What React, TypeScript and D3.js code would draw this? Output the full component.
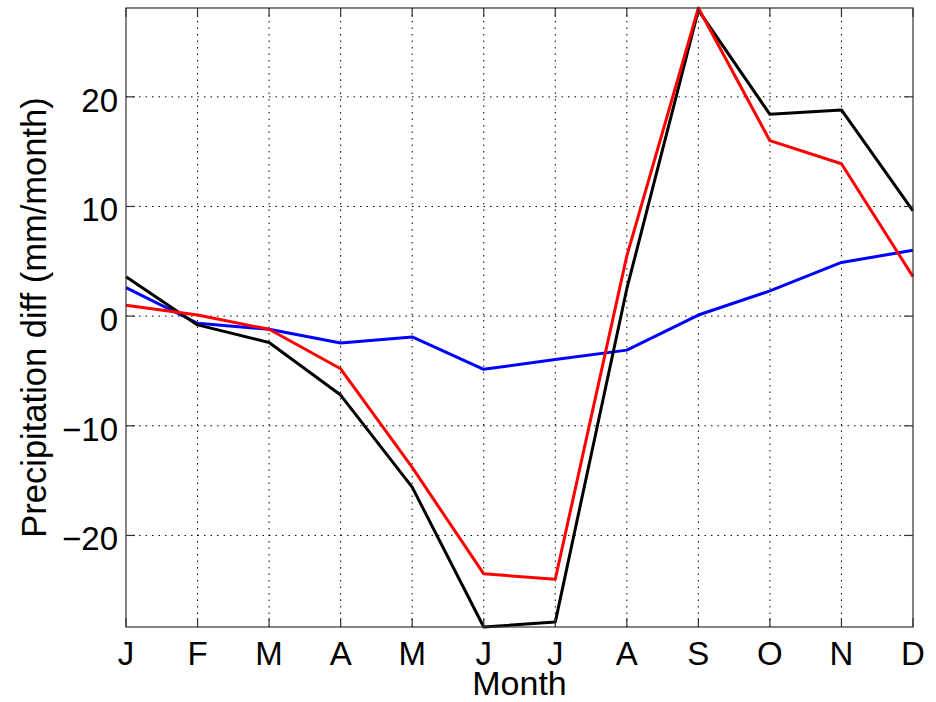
import React, { useEffect, useRef } from 'react';
import * as d3 from 'd3';

// Month labels (x axis)
const months = ['J', 'F', 'M', 'A', 'M', 'J', 'J', 'A', 'S', 'O', 'N', 'D'];

// Precipitation difference series (mm/month)
const blackSeries = [3.6, -0.8, -2.4, -7.2, -15.6, -28.35, -27.9, 2.5, 27.9, 18.4, 18.8, 9.6];
const redSeries = [1.0, 0.1, -1.2, -4.8, -13.8, -23.5, -24.0, 5.5, 28.1, 16.0, 13.9, 3.6];
const blueSeries = [2.6, -0.65, -1.2, -2.45, -1.9, -4.85, -3.95, -3.1, 0.1, 2.3, 4.9, 6.0];

// Y ticks
const yTicks = [-20, -10, 0, 10, 20];

const App = () => {
    const svgRef = useRef<SVGSVGElement | null>(null);

    useEffect(() => {
        const width = 936;
        const height = 702;
        const margin = { top: 8, right: 23, bottom: 75, left: 126 };
        const font = '"Liberation Sans", Arial, Helvetica, sans-serif';

        const svg = d3.select(svgRef.current)
            .attr('width', width)
            .attr('height', height);

        svg.selectAll('*').remove();

        const all = [...blackSeries, ...redSeries, ...blueSeries];

        // Scales (axis tight, like MATLAB)
        const x = d3.scaleLinear()
            .domain([0, months.length - 1])
            .range([margin.left, width - margin.right]);

        const y = d3.scaleLinear()
            .domain(d3.extent(all) as [number, number])
            .range([height - margin.bottom, margin.top]);

        const x0 = x.range()[0], x1 = x.range()[1];
        const y0 = y.range()[0], y1 = y.range()[1];

        // Grid
        const grid = svg.append('g')
            .attr('stroke', '#000')
            .attr('stroke-width', 1)
            .attr('stroke-dasharray', '1.5,5');

        grid.selectAll('line.gx')
            .data(d3.range(1, months.length - 1))
            .join('line')
            .attr('x1', d => x(d)).attr('x2', d => x(d))
            .attr('y1', y1).attr('y2', y0);

        grid.selectAll('line.gy')
            .data(yTicks)
            .join('line')
            .attr('class', 'gy')
            .attr('x1', x0).attr('x2', x1)
            .attr('y1', d => y(d)).attr('y2', d => y(d));

        // Lines
        const line = d3.line<number>()
            .x((_, i) => x(i))
            .y(d => y(d));

        const series = [
            { data: blueSeries, color: '#0000ff' },
            { data: blackSeries, color: '#000000' },
            { data: redSeries, color: '#ff0000' },
        ];

        svg.append('g')
            .selectAll('path')
            .data(series)
            .join('path')
            .attr('d', d => line(d.data))
            .attr('fill', 'none')
            .attr('stroke', d => d.color)
            .attr('stroke-width', 3)
            .attr('stroke-linejoin', 'round');

        // Box and inner ticks
        const axisColor = '#333';
        svg.append('rect')
            .attr('x', x0).attr('y', y1)
            .attr('width', x1 - x0).attr('height', y0 - y1)
            .attr('fill', 'none')
            .attr('stroke', axisColor)
            .attr('stroke-width', 1.2);

        const tickLen = 9;
        const ticks = svg.append('g').attr('stroke', axisColor).attr('stroke-width', 1.2);
        months.forEach((_, i) => {
            ticks.append('line').attr('x1', x(i)).attr('x2', x(i)).attr('y1', y0).attr('y2', y0 - tickLen);
            ticks.append('line').attr('x1', x(i)).attr('x2', x(i)).attr('y1', y1).attr('y2', y1 + tickLen);
        });
        yTicks.forEach(t => {
            ticks.append('line').attr('x1', x0).attr('x2', x0 + tickLen).attr('y1', y(t)).attr('y2', y(t));
            ticks.append('line').attr('x1', x1).attr('x2', x1 - tickLen).attr('y1', y(t)).attr('y2', y(t));
        });

        // Tick labels
        svg.append('g')
            .selectAll('text')
            .data(months)
            .join('text')
            .attr('x', (_, i) => x(i))
            .attr('y', 665)
            .attr('text-anchor', 'middle')
            .attr('font-family', font)
            .attr('font-size', 33)
            .attr('fill', '#000')
            .text(d => d);

        svg.append('g')
            .selectAll('text')
            .data(yTicks)
            .join('text')
            .attr('x', x0 - 8)
            .attr('y', d => y(d) + 15)
            .attr('text-anchor', 'end')
            .attr('font-family', font)
            .attr('font-size', 33)
            .attr('fill', '#000')
            .text(d => (d < 0 ? '\u2212' + Math.abs(d) : String(d)));

        // Axis labels
        svg.append('text')
            .attr('x', (x0 + x1) / 2)
            .attr('y', 695)
            .attr('text-anchor', 'middle')
            .attr('font-family', font)
            .attr('font-size', 34)
            .text('Month');

        svg.append('text')
            .attr('transform', `translate(46,${(y0 + y1) / 2}) rotate(-90)`)
            .attr('text-anchor', 'middle')
            .attr('font-family', font)
            .attr('font-size', 34.5)
            .text('Precipitation diff (mm/month)');
    }, []);

    return (
        <svg ref={svgRef} style={{ position: 'absolute', left: 0, top: 0, display: 'block' }}></svg>
    );
};

export default App;
